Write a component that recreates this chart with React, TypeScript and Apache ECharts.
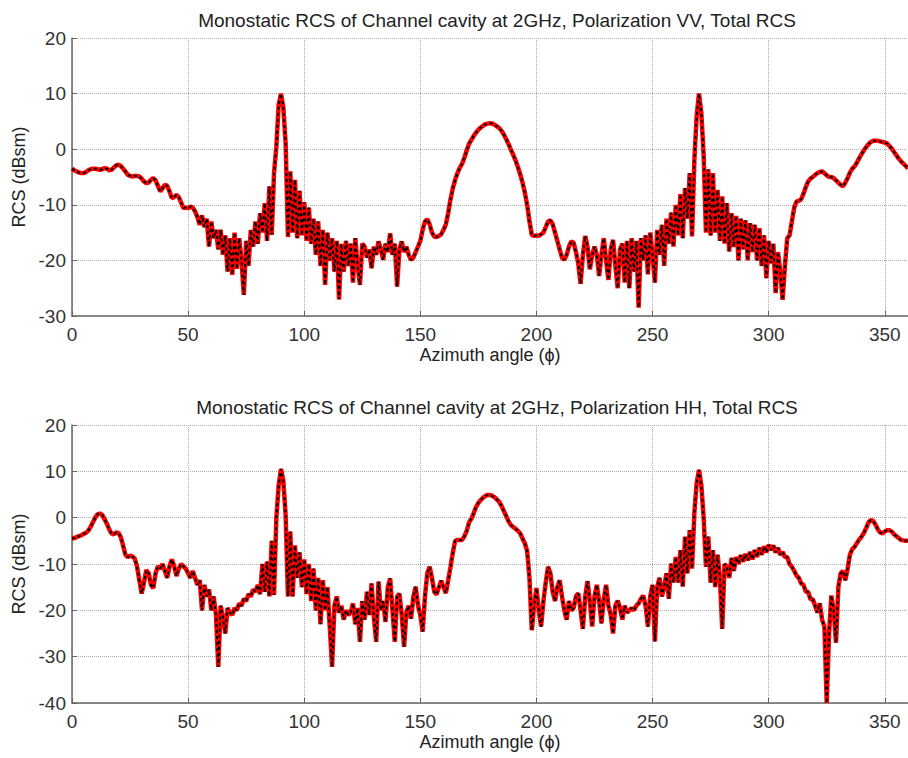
import React, { useEffect, useRef } from "react";
import * as echarts from "echarts";

// Azimuth step: 1 degree, 0..360
const titleVV = "Monostatic RCS of Channel cavity at 2GHz, Polarization VV, Total RCS";
const titleHH = "Monostatic RCS of Channel cavity at 2GHz, Polarization HH, Total RCS";
const xName = "Azimuth angle (\u03D5)";
const yName = "RCS (dBsm)";
const xTicks = [0, 50, 100, 150, 200, 250, 300, 350];
const yTicksVV = [-30, -20, -10, 0, 10, 20];
const yTicksHH = [-40, -30, -20, -10, 0, 10, 20];

// VV total RCS (dBsm), azimuth 0..360
const rcsVV = [
  -3.5, -3.8, -4.0, -4.2, -4.3, -4.3, -4.1, -3.8, -3.6, -3.5,
  -3.5, -3.6, -3.7, -3.6, -3.4, -3.5, -3.8, -3.7, -3.3, -2.9,
  -2.8, -3.0, -3.5, -4.0, -4.6, -4.8, -4.9, -4.8, -4.8, -4.9,
  -5.3, -5.8, -6.1, -6.0, -5.5, -5.2, -5.6, -6.6, -7.6, -7.0,
  -6.4, -6.6, -7.6, -8.8, -8.6, -8.2, -8.6, -9.6, -10.6, -10.5,
  -10.6, -10.3, -10.5, -11.2, -12.2, -13.6, -11.9, -14.0, -12.5, -17.5,
  -13.0, -16.0, -14.5, -18.0, -14.5, -19.0, -15.5, -22.0, -16.0, -22.6,
  -15.0, -21.5, -16.0, -20.0, -26.2, -16.5, -21.0, -14.5, -17.5, -13.0,
  -17.0, -11.5, -15.0, -9.7, -16.5, -6.7, -15.4, -4.3, 0.5, 8.0,
  10.0, 7.5, 1.0, -15.8, -4.0, -15.0, -5.5, -16.0, -7.5, -15.5,
  -9.5, -16.5, -10.5, -17.0, -12.5, -19.0, -13.0, -21.0, -14.5, -24.4,
  -15.0, -20.0, -16.0, -22.0, -16.5, -27.0, -17.0, -22.0, -16.5, -21.0,
  -17.0, -24.0, -16.0, -21.0, -24.4, -17.0, -17.5, -19.5, -18.0, -21.4,
  -17.5, -19.0, -16.6, -18.0, -19.9, -17.0, -18.5, -15.1, -19.0, -17.0,
  -24.7, -18.0, -16.6, -18.5, -17.5, -19.0, -19.9, -19.5, -18.5, -17.5,
  -16.5, -14.5, -13.0, -12.6, -13.5, -15.0, -15.7, -15.8, -15.6, -15.3,
  -14.5, -13.5, -11.5, -9.0, -7.0, -5.5, -4.3, -3.3, -2.6, -1.5,
  -0.2, 1.0, 1.7, 2.4, 3.0, 3.5, 3.9, 4.2, 4.5, 4.6,
  4.65, 4.6, 4.4, 4.1, 3.8, 3.3, 2.6, 1.8, 0.9, -0.1,
  -1.0, -2.0, -3.2, -4.5, -6.0, -7.8, -10.0, -13.0, -15.4, -15.6,
  -15.5, -15.6, -15.3, -15.0, -14.0, -13.0, -12.8, -13.5, -15.0, -16.5,
  -18.0, -19.5, -19.9, -19.0, -17.5, -16.6, -16.8, -18.5, -20.5, -24.2,
  -19.0, -15.6, -17.5, -21.6, -19.0, -17.5, -19.0, -22.8, -19.0, -16.0,
  -20.0, -23.5, -18.0, -16.3, -21.0, -25.0, -18.0, -17.0, -24.0, -16.5,
  -25.0, -16.0, -22.0, -16.5, -28.5, -16.0, -20.0, -15.5, -22.5, -15.0,
  -19.0, -24.0, -14.5, -19.0, -13.6, -21.0, -12.5, -17.0, -11.4, -17.5,
  -10.0, -15.5, -8.1, -16.0, -7.0, -12.5, -4.3, -15.7, -2.0, 6.0,
  10.0, 6.5, -1.0, -15.0, -3.6, -15.5, -4.3, -15.0, -7.3, -16.5,
  -8.5, -17.0, -9.7, -18.4, -11.5, -17.6, -12.0, -20.0, -12.5, -18.0,
  -12.8, -20.0, -13.3, -18.5, -13.6, -20.0, -14.2, -21.0, -15.5, -23.2,
  -16.5, -20.5, -17.0, -25.9, -18.5, -22.0, -27.1, -21.0, -16.0, -15.5,
  -13.0, -10.5, -9.4, -9.3, -9.0, -8.0, -6.8, -5.8, -5.3, -5.0,
  -4.6, -4.3, -4.1, -4.0, -4.3, -4.7, -5.0, -5.0, -5.2, -5.6,
  -6.0, -6.4, -6.7, -6.0, -5.2, -4.2, -3.5, -3.1, -2.4, -1.6,
  -0.9, -0.2, 0.4, 0.9, 1.3, 1.5, 1.5, 1.5, 1.4, 1.3,
  1.2, 1.0, 0.6, 0.1, -0.5, -1.1, -1.7, -2.2, -2.6, -3.0,
  -3.5
];

// HH total RCS (dBsm), azimuth 0..360
const rcsHH = [
  -4.5, -4.4, -4.2, -4.0, -3.8, -3.5, -3.3, -2.8, -2.0, -1.0,
  0.0, 0.7, 0.9, 0.6, -0.3, -1.3, -2.5, -3.4, -3.6, -3.2,
  -3.3, -4.2, -6.0, -8.0, -8.5, -8.2, -8.4, -8.8, -10.5, -13.5,
  -16.4, -14.0, -11.3, -12.0, -14.5, -15.2, -12.0, -10.5, -11.0, -10.0,
  -11.5, -13.0, -10.5, -9.0, -10.5, -12.6, -11.0, -10.0, -10.5, -11.0,
  -12.0, -13.0, -11.5, -13.0, -14.5, -13.5, -20.0, -14.5, -17.0, -15.5,
  -20.0, -17.0, -21.0, -32.2, -19.0, -21.5, -25.0, -19.5, -20.5, -21.0,
  -19.5, -20.0, -18.5, -19.0, -17.5, -18.0, -16.5, -17.0, -15.5, -16.0,
  -14.5, -16.5, -10.0, -16.0, -9.5, -17.0, -5.0, -16.7, 0.0, 7.0,
  10.5, 8.0, 0.5, -17.0, -3.0, -17.0, -6.0, -13.0, -7.5, -15.0,
  -9.0, -16.5, -10.0, -18.0, -11.0, -20.0, -13.0, -23.0, -13.5, -20.0,
  -15.0, -23.5, -32.2, -19.0, -17.0, -20.5, -19.0, -22.0, -20.0, -21.0,
  -20.5, -18.5, -23.0, -19.5, -26.8, -18.0, -22.0, -16.0, -21.0, -14.2,
  -21.5, -26.8, -13.8, -20.0, -18.0, -22.5, -15.0, -13.1, -20.0, -26.8,
  -17.0, -16.4, -21.0, -27.9, -20.4, -19.0, -21.8, -17.0, -14.9, -19.0,
  -21.0, -24.6, -17.0, -12.0, -10.6, -13.0, -16.0, -16.6, -15.0, -13.6,
  -15.0, -16.3, -13.5, -10.6, -7.5, -5.0, -4.8, -4.8, -4.8, -4.0,
  -2.8, -1.0, -0.2, 1.0, 2.3, 3.2, 3.8, 4.3, 4.7, 4.9,
  4.9, 4.7, 4.4, 3.9, 3.4, 2.5, 1.4, 0.3, -0.8, -1.6,
  -2.0, -2.4, -2.8, -3.4, -4.5, -5.5, -7.2, -13.0, -24.3, -19.0,
  -15.2, -20.0, -23.5, -18.0, -14.0, -10.6, -12.0, -16.0, -18.0, -15.0,
  -13.5, -17.0, -20.0, -22.0, -18.0, -20.0, -19.5, -17.0, -16.3, -20.0,
  -24.0, -17.0, -13.7, -18.0, -23.5, -17.0, -14.5, -18.0, -22.8, -17.5,
  -14.5, -19.0, -21.0, -25.0, -19.0, -17.9, -19.5, -22.0, -19.0, -20.5,
  -20.0, -19.5, -20.0, -19.0, -18.5, -17.5, -16.8, -19.0, -23.5, -17.0,
  -14.5, -26.7, -15.0, -13.0, -17.0, -15.0, -12.0, -17.5, -9.9, -14.0,
  -8.5, -14.0, -7.0, -14.9, -4.1, -12.0, -2.7, -11.0, 1.0, 7.5,
  10.3, 7.0, 0.0, -10.6, -4.1, -14.0, -7.0, -15.0, -8.0, -13.0,
  -24.0, -10.0, -10.6, -13.0, -8.7, -11.5, -8.5, -10.0, -8.1, -9.5,
  -7.8, -9.2, -7.4, -9.0, -7.0, -8.5, -6.5, -8.0, -6.2, -7.5,
  -5.9, -7.0, -6.0, -7.5, -6.5, -8.0, -7.4, -8.5, -8.5, -10.0,
  -10.6, -11.5, -12.5, -13.0, -14.2, -14.5, -16.0, -16.0, -17.6, -17.6,
  -19.0, -20.5, -18.5, -22.0, -23.5, -40.0, -25.0, -16.8, -20.0, -27.0,
  -15.0, -12.0, -11.5, -13.5, -11.0, -8.0, -6.8, -6.3, -5.5, -4.7,
  -4.1, -3.3, -2.2, -1.0, -0.5, -0.7, -1.5, -2.5, -3.2, -3.4,
  -3.0, -2.7, -2.7, -3.0, -3.6, -4.0, -4.4, -4.8, -4.9, -5.0,
  -5.0
];

const FONT = "'Liberation Sans', Arial, Helvetica, sans-serif";

function pairs(vals: number[]) {
  return vals.map((v, i) => [i, v]);
}

export default function App() {
  const ref = useRef<HTMLDivElement>(null);
  useEffect(() => {
    if (!ref.current) return;
    const chart = echarts.init(ref.current, undefined, { renderer: "svg" });
    const plotW = 840;
    const plotH = 278;
    const grids = [
      { left: 72, top: 38, width: plotW, height: plotH },
      { left: 72, top: 425, width: plotW, height: plotH },
    ];
    const xAxisBase = (gi: number) => ({
      type: "value",
      gridIndex: gi,
      min: 0,
      max: 360,
      interval: 50,
      name: xName,
      nameLocation: "middle",
      nameGap: 30,
      nameTextStyle: { fontFamily: FONT, fontSize: 18, color: "#222" },
      axisLine: { show: true, onZero: false, lineStyle: { color: "#666", width: 1.5 } },
      axisTick: { show: true, inside: true, length: 5, lineStyle: { color: "#666" } },
      axisLabel: {
        fontFamily: FONT,
        fontSize: 19,
        color: "#333",
        margin: 9,
        showMaxLabel: false,
        formatter: (v: number) => (xTicks.indexOf(v) >= 0 ? String(v) : ""),
      },
      splitLine: { show: true, lineStyle: { type: "dotted", color: "#aaa", width: 1 } },
    });
    const yAxisBase = (gi: number, ticks: number[]) => ({
      type: "value",
      gridIndex: gi,
      min: ticks[0],
      max: ticks[ticks.length - 1],
      interval: 10,
      name: yName,
      nameLocation: "middle",
      nameGap: 40,
      nameTextStyle: { fontFamily: FONT, fontSize: 18, color: "#222" },
      axisLine: { show: true, onZero: false, lineStyle: { color: "#666", width: 1.5 } },
      axisTick: { show: true, inside: true, length: 5, lineStyle: { color: "#666" } },
      axisLabel: { fontFamily: FONT, fontSize: 19, color: "#333", margin: 6 },
      splitLine: { show: true, lineStyle: { type: "dotted", color: "#aaa", width: 1 } },
    });
    const mk = (vals: number[], gi: number) => [
      {
        type: "line",
        xAxisIndex: gi,
        yAxisIndex: gi,
        data: pairs(vals),
        showSymbol: false,
        symbol: "none",
        lineStyle: { color: "#ff0000", width: 4.5 },
        z: 2,
      },
      {
        type: "line",
        xAxisIndex: gi,
        yAxisIndex: gi,
        data: pairs(vals),
        showSymbol: false,
        symbol: "none",
        lineStyle: { color: "#000000", width: 2, type: [3, 3] },
        z: 3,
      },
    ];
    chart.setOption({
      animation: false,
      backgroundColor: "#ffffff",
      title: [
        {
          text: titleVV,
          left: 492,
          textAlign: "center",
          top: 6,
          textStyle: { fontFamily: FONT, fontSize: 19, fontWeight: "normal", color: "#222" },
        },
        {
          text: titleHH,
          left: 492,
          textAlign: "center",
          top: 393,
          textStyle: { fontFamily: FONT, fontSize: 19, fontWeight: "normal", color: "#222" },
        },
      ],
      grid: grids,
      xAxis: [xAxisBase(0), xAxisBase(1)],
      yAxis: [yAxisBase(0, yTicksVV), yAxisBase(1, yTicksHH)],
      series: [...mk(rcsVV, 0), ...mk(rcsHH, 1)],
    });
    return () => chart.dispose();
  }, []);
  return (
    <div
      ref={ref}
      style={{ position: "fixed", left: 0, top: 0, width: 908, height: 758, background: "#fff" }}
    />
  );
}
